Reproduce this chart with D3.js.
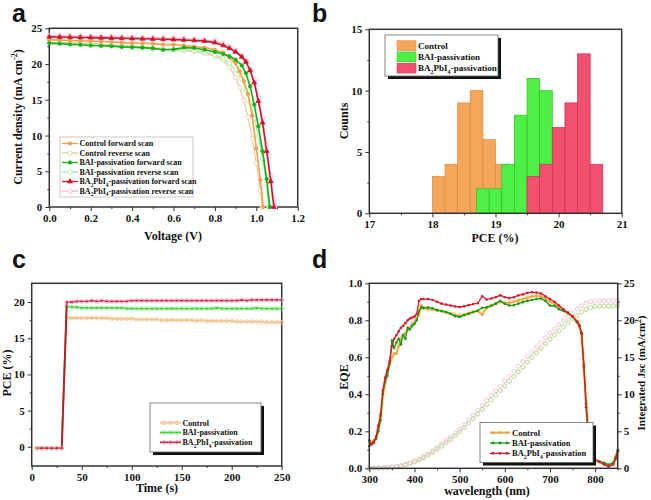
<!DOCTYPE html>
<html><head><meta charset="utf-8">
<script src="https://cdn.jsdelivr.net/npm/d3@7"></script>
<style>body{margin:0;background:#fff}</style>
</head><body>
<svg id="fig" width="651" height="500" xmlns="http://www.w3.org/2000/svg"></svg>
<script>
// ---------- Panel a : J-V curves ----------
const V_ctrlF = [0,0.05,0.1,0.15,0.2,0.25,0.3,0.35,0.4,0.45,0.5,0.55,0.6,0.65,0.7,0.75,0.8,0.84,0.87,0.9,0.92,0.94,0.96,0.98,1.0,1.02,1.033];
const J_ctrlF = [23.4,23.35,23.3,23.25,23.2,23.15,23.1,23.0,22.95,22.9,22.85,22.75,22.7,22.6,22.45,22.3,22.0,21.6,20.9,20.1,19.0,17.6,15.8,12.8,8.2,3.8,0];
const V_ctrlR = [0,0.05,0.1,0.15,0.2,0.25,0.3,0.35,0.4,0.45,0.5,0.55,0.6,0.65,0.7,0.75,0.8,0.84,0.87,0.9,0.92,0.94,0.96,0.98,1.0,1.02,1.028];
const J_ctrlR = [23.1,23.05,23.0,22.95,22.9,22.8,22.7,22.6,22.5,22.4,22.3,22.15,22.0,21.9,21.75,21.5,21.1,20.5,19.6,18.1,16.7,14.9,12.6,9.6,6.1,2.3,0];
const V_baiF = [0,0.05,0.1,0.15,0.2,0.25,0.3,0.35,0.4,0.45,0.5,0.55,0.6,0.65,0.7,0.75,0.8,0.84,0.87,0.9,0.93,0.95,0.97,0.99,1.01,1.03,1.05,1.065];
const J_baiF = [22.9,22.85,22.75,22.7,22.6,22.55,22.5,22.4,22.35,22.3,22.2,22.0,22.05,22.3,22.25,22.0,21.7,21.4,21.1,20.6,19.8,18.7,16.9,14.3,11.3,7.8,3.9,0];
const V_baiR = [0,0.05,0.1,0.15,0.2,0.25,0.3,0.35,0.4,0.45,0.5,0.55,0.6,0.65,0.7,0.75,0.8,0.84,0.87,0.9,0.93,0.95,0.97,0.99,1.01,1.03,1.05,1.06];
const J_baiR = [23.0,22.95,22.9,22.8,22.75,22.65,22.55,22.45,22.35,22.25,22.1,22.0,21.95,22.0,21.9,21.7,21.3,20.8,20.1,19.2,17.9,16.4,14.6,12.4,9.8,6.8,3.2,0];
const V_baF = [0,0.05,0.1,0.15,0.2,0.25,0.3,0.35,0.4,0.45,0.5,0.55,0.6,0.65,0.7,0.75,0.8,0.84,0.87,0.9,0.93,0.95,0.97,0.99,1.01,1.03,1.05,1.07,1.085];
const J_baF = [23.8,23.78,23.75,23.72,23.7,23.66,23.63,23.6,23.56,23.53,23.5,23.46,23.42,23.37,23.3,23.2,23.0,22.6,22.2,21.7,21.0,20.3,19.1,17.4,14.8,11.8,7.8,3.6,0];
const V_baR = [0,0.05,0.1,0.15,0.2,0.25,0.3,0.35,0.4,0.45,0.5,0.55,0.6,0.65,0.7,0.75,0.8,0.84,0.87,0.9,0.93,0.95,0.97,0.99,1.01,1.03,1.05,1.07,1.09];
const J_baR = [24.0,23.98,23.95,23.92,23.9,23.87,23.84,23.8,23.77,23.74,23.7,23.66,23.62,23.57,23.5,23.4,23.2,22.9,22.4,21.9,21.2,20.4,19.3,17.8,15.4,12.5,8.6,4.4,0];
const aXTicks = [0,0.2,0.4,0.6,0.8,1.0,1.2];
const aYTicks = [0,5,10,15,20,25];

// ---------- Panel b : PCE histograms ----------
const binW = 0.2;
const ctrlBins = [18.0,18.2,18.4,18.6,18.8,19.0];
const ctrlCounts = [3,4,9,10,6,4];
const baiBins = [18.7,18.9,19.1,19.3,19.5,19.7,19.9];
const baiCounts = [2,2,4,8,11,10,3];
const baBins = [19.5,19.7,19.9,20.1,20.3,20.5];
const baCounts = [3,4,7,9,13,4];
const bXTicks = [17,18,19,20,21];
const bYTicks = [0,5,10,15];

// ---------- Panel c : stabilized PCE ----------
const tSec = [5,10,15,20,25,30,35,40,45,50,55,60,65,70,75,80,85,90,95,100,105,110,115,120,125,130,135,140,145,150,155,160,165,170,175,180,185,190,195,200,205,210,215,220,225,230,235,240,245,250];
const pceCtrl = [-0.2,-0.2,-0.2,-0.2,-0.2,-0.2,17.9,17.8,17.8,17.8,17.8,17.8,17.8,17.8,17.8,17.7,17.7,17.7,17.7,17.7,17.6,17.6,17.6,17.6,17.6,17.5,17.5,17.5,17.5,17.5,17.5,17.5,17.4,17.5,17.4,17.4,17.4,17.4,17.4,17.4,17.3,17.3,17.3,17.3,17.3,17.3,17.2,17.2,17.2,17.2];
const pceBai = [-0.2,-0.2,-0.2,-0.2,-0.2,-0.2,19.4,19.3,19.3,19.2,19.2,19.2,19.2,19.2,19.2,19.2,19.2,19.2,19.1,19.1,19.1,19.1,19.1,19.1,19.1,19.1,19.1,19.1,19.1,19.1,19.1,19.1,19.1,19.1,19.1,19.1,19.2,19.1,19.1,19.1,19.1,19.1,19.1,19.1,19.2,19.1,19.1,19.1,19.1,19.1];
const pceBa = [-0.2,-0.2,-0.2,-0.2,-0.2,-0.2,20.0,20.0,20.1,20.1,20.1,20.2,20.1,20.2,20.1,20.1,20.1,20.1,20.1,20.2,20.2,20.2,20.2,20.2,20.2,20.2,20.2,20.2,20.2,20.2,20.2,20.2,20.2,20.2,20.2,20.2,20.2,20.2,20.2,20.2,20.2,20.3,20.2,20.3,20.3,20.3,20.3,20.3,20.3,20.3];
const cXTicks = [0,50,100,150,200,250];
const cYTicks = [0,5,10,15,20];

// ---------- Panel d : EQE and integrated Jsc ----------
const wlEqe = [300,305,310,315,320,325,330,335,340,345,350,355,360,365,370,375,380,385,390,395,400,405,410,415,420,430,440,450,460,470,480,490,500,510,520,530,540,550,560,570,580,590,600,610,620,630,640,650,660,670,680,690,700,710,720,730,740,750,760,765,770,775,780,785,790,795,800,810,820,830,840,845,850];
const eqeCtrl = [0.15,0.14,0.14,0.16,0.22,0.28,0.40,0.46,0.52,0.56,0.60,0.62,0.62,0.66,0.70,0.72,0.73,0.75,0.76,0.78,0.79,0.81,0.83,0.88,0.87,0.86,0.86,0.855,0.85,0.842,0.836,0.83,0.825,0.83,0.838,0.845,0.85,0.832,0.87,0.88,0.89,0.90,0.892,0.895,0.90,0.908,0.915,0.922,0.928,0.932,0.93,0.92,0.90,0.89,0.87,0.855,0.84,0.82,0.79,0.77,0.725,0.56,0.36,0.20,0.10,0.06,0.045,0.035,0.025,0.015,0.025,0.05,0.09];
const eqeBai = [0.12,0.13,0.15,0.16,0.20,0.26,0.40,0.47,0.50,0.57,0.69,0.65,0.68,0.70,0.67,0.72,0.70,0.76,0.75,0.77,0.78,0.80,0.85,0.87,0.865,0.87,0.865,0.855,0.85,0.845,0.835,0.822,0.818,0.828,0.835,0.845,0.852,0.868,0.87,0.878,0.89,0.905,0.89,0.88,0.882,0.89,0.898,0.905,0.91,0.915,0.918,0.905,0.88,0.878,0.86,0.85,0.84,0.82,0.79,0.77,0.73,0.56,0.35,0.20,0.10,0.06,0.045,0.035,0.03,0.02,0.03,0.06,0.10];
const eqeBa = [0.15,0.13,0.14,0.17,0.23,0.29,0.42,0.49,0.53,0.58,0.66,0.70,0.72,0.74,0.76,0.77,0.785,0.80,0.81,0.815,0.82,0.835,0.905,0.915,0.915,0.915,0.91,0.90,0.89,0.885,0.88,0.875,0.872,0.876,0.882,0.888,0.892,0.93,0.912,0.918,0.925,0.935,0.925,0.92,0.925,0.935,0.94,0.948,0.952,0.95,0.945,0.93,0.915,0.90,0.88,0.86,0.84,0.82,0.795,0.775,0.73,0.55,0.33,0.18,0.09,0.055,0.045,0.035,0.02,0.01,0.02,0.05,0.09];
const wlJsc = [300,310,320,330,340,350,360,370,380,390,400,410,420,430,440,450,460,470,480,490,500,510,520,530,540,550,560,570,580,590,600,610,620,630,640,650,660,670,680,690,700,710,720,730,740,750,760,770,780,790,800,810,820,830,840,850];
const jscCtrl = [0,0.01,0.03,0.05,0.09,0.15,0.23,0.34,0.47,0.64,0.85,1.1,1.4,1.74,2.12,2.53,2.97,3.43,3.9,4.39,4.9,5.48,6.08,6.69,7.31,7.93,8.56,9.2,9.84,10.48,11.12,11.76,12.4,13.05,13.7,14.35,15.0,15.63,16.26,16.89,17.5,18.06,18.61,19.15,19.68,20.2,20.68,21.12,21.5,21.72,21.83,21.86,21.88,21.9,21.92,21.94];
const jscBai = [0,0.01,0.03,0.05,0.09,0.15,0.23,0.34,0.48,0.66,0.88,1.15,1.46,1.8,2.18,2.6,3.04,3.5,3.97,4.46,4.96,5.55,6.15,6.76,7.38,8.0,8.63,9.26,9.89,10.52,11.15,11.78,12.41,13.04,13.67,14.3,14.93,15.56,16.19,16.82,17.44,18.0,18.55,19.09,19.62,20.14,20.63,21.08,21.48,21.75,21.88,21.92,21.95,21.97,21.99,22.0];
const jscBa = [0,0.01,0.03,0.06,0.10,0.16,0.25,0.37,0.52,0.72,0.96,1.25,1.58,1.95,2.36,2.8,3.27,3.75,4.25,4.77,5.3,5.93,6.56,7.2,7.85,8.5,9.16,9.82,10.48,11.14,11.8,12.46,13.12,13.78,14.44,15.1,15.74,16.38,17.02,17.66,18.3,18.85,19.4,19.95,20.48,21.0,21.5,21.95,22.3,22.5,22.6,22.63,22.65,22.66,22.68,22.7];
const dXTicks = [300,400,500,600,700,800];
const dYTicks = [0,0.2,0.4,0.6,0.8,1.0];
const dY2Ticks = [0,5,10,15,20,25];

// ---------- drawing ----------
const SERIF = "'Liberation Serif','Times New Roman',serif";
const SANS = "'Liberation Sans',Arial,sans-serif";
const svg = d3.select('#fig');
svg.append('rect').attr('width',651).attr('height',500).attr('fill','#fff');

function rich(t, parts, fs) {
  let shift = 0;
  parts.forEach(([s, k]) => {
    const sp = t.append('tspan').text(s);
    const target = k === 'sub' ? fs * 0.3 : k === 'sup' ? -fs * 0.38 : 0;
    sp.attr('dy', target - shift); shift = target;
    if (k !== 'n') sp.attr('font-size', fs * 0.68);
  });
  return t;
}
function BA(rest) { return [['BA','n'],['2','sub'],['PbI','n'],['4','sub'],[rest,'n']]; }

function styleAxis(g, fs) {
  g.select('.domain').remove();
  g.attr('font-family', SERIF).attr('font-size', fs).attr('font-weight', 'bold');
  g.selectAll('text').attr('fill', '#111');
  g.selectAll('line').attr('stroke', '#333').attr('stroke-width', 1);
}
function frame(x, y, o) {
  const g = svg.append('g');
  const [x0, x1] = x.range(), [yb, yt] = y.range();
  const fs = o.fs || 11;
  styleAxis(g.append('g').attr('transform', `translate(0,${yb})`)
    .call(d3.axisBottom(x).tickValues(o.xt).tickSize(4).tickPadding(3).tickFormat(o.xf)), fs);
  styleAxis(g.append('g').attr('transform', `translate(0,${yb})`)
    .call(d3.axisBottom(x).tickValues(o.xm).tickSize(2).tickFormat('')), fs);
  styleAxis(g.append('g').attr('transform', `translate(${x0},0)`)
    .call(d3.axisLeft(y).tickValues(o.yt).tickSize(4).tickPadding(3).tickFormat(o.yf)), fs);
  styleAxis(g.append('g').attr('transform', `translate(${x0},0)`)
    .call(d3.axisLeft(y).tickValues(o.ym).tickSize(2).tickFormat('')), fs);
  g.append('rect').attr('x', x0).attr('y', yt).attr('width', x1 - x0).attr('height', yb - yt)
    .attr('fill', 'none').attr('stroke', '#333').attr('stroke-width', 1.5);
  return g;
}
function title(x, y, parts, rot, fs) {
  const t = svg.append('text').attr('font-family', SERIF).attr('font-weight', 'bold')
    .attr('font-size', fs || 12).attr('fill', '#111').attr('text-anchor', 'middle')
    .attr('transform', `translate(${x},${y}) rotate(${rot || 0})`);
  rich(t, parts, fs || 12);
}
function letter(x, y, s) {
  svg.append('text').attr('x', x).attr('y', y).attr('font-family', SANS)
    .attr('font-weight', 'bold').attr('font-size', 25).attr('fill', '#111').text(s);
}
function legendBox(x, y, w, h, shadow) {
  if (shadow) svg.append('rect').attr('x', x + 3).attr('y', y + 3).attr('width', w).attr('height', h).attr('fill', '#111');
  svg.append('rect').attr('x', x).attr('y', y).attr('width', w).attr('height', h)
    .attr('fill', '#fff').attr('stroke', shadow ? '#666' : '#bbb').attr('stroke-width', 0.8);
  return svg.append('g');
}
function marker(g, type, cx, cy, r, col, fill) {
  if (type === 'tri') {
    g.append('path').attr('d', d3.symbol(d3.symbolTriangle, r * r * 3.2)())
      .attr('transform', `translate(${cx},${cy})`).attr('fill', fill).attr('stroke', col).attr('stroke-width', 0.8);
  } else {
    g.append('circle').attr('cx', cx).attr('cy', cy).attr('r', r).attr('fill', fill)
      .attr('stroke', col).attr('stroke-width', 0.8);
  }
}

// ===== Panel a =====
{
  const x = d3.scaleLinear().domain([0, 1.2]).range([49.3, 297.7]);
  const y = d3.scaleLinear().domain([0, 25]).range([207, 28.3]);
  frame(x, y, { xt: aXTicks, xm: [0.1,0.3,0.5,0.7,0.9,1.1], xf: d3.format('.1f'),
    yt: aYTicks, ym: [2.5,7.5,12.5,17.5,22.5], yf: d3.format('d') });
  const series = [
    { V: V_ctrlR, J: J_ctrlR, col: '#e9c89c', fill: '#fff', m: 'c', r: 2.2 },
    { V: V_baiR, J: J_baiR, col: '#a6eba0', fill: '#fff', m: 'c', r: 2.2 },
    { V: V_baR, J: J_baR, col: '#f2b3cc', fill: '#fff', m: 'c', r: 2.2 },
    { V: V_ctrlF, J: J_ctrlF, col: '#f0a04c', fill: '#f0a04c', m: 'c', r: 1.7 },
    { V: V_baiF, J: J_baiF, col: '#14b014', fill: '#14b014', m: 'c', r: 1.7 },
    { V: V_baF, J: J_baF, col: '#d2142c', fill: '#d2142c', m: 'tri', r: 1.8 }
  ];
  const gl = svg.append('g');
  series.forEach(s => {
    const pts = s.V.map((v, i) => [x(v), y(s.J[i])]);
    gl.append('path').attr('d', d3.line()(pts)).attr('fill', 'none').attr('stroke', s.col)
      .attr('stroke-width', s.fill === '#fff' ? 1.2 : 1.6);
    pts.forEach(p => marker(gl, s.m, p[0], p[1], s.r, s.col, s.fill));
  });
  const lg = legendBox(60, 137, 133, 60, false);
  const leg = [
    [series[3], [['Control forward scan','n']]],
    [series[0], [['Control reverse scan','n']]],
    [series[4], [['BAI-passivation forward scan','n']]],
    [series[1], [['BAI-passivation reverse scan','n']]],
    [series[5], BA('-passivation forward scan')],
    [series[2], BA('-passivation reverse scan')]
  ];
  leg.forEach(([s, parts], i) => {
    const yy = 143.5 + i * 9.5;
    lg.append('line').attr('x1', 62).attr('x2', 78).attr('y1', yy).attr('y2', yy).attr('stroke', s.col).attr('stroke-width', 1.3);
    marker(lg, s.m, 70, yy, s.r, s.col, s.fill);
    const t = lg.append('text').attr('x', 79.5).attr('y', yy + 2.8).attr('font-family', SERIF)
      .attr('font-weight', 'bold').attr('font-size', 8).attr('fill', '#111');
    rich(t, parts, 8);
  });
  title(22, 117, [['Current density (mA cm','n'],['-2','sup'],[')','n']], -90, 12);
  title(173, 240, [['Voltage (V)','n']], 0, 12);
  letter(12, 22, 'a');
}

// ===== Panel b =====
{
  const x = d3.scaleLinear().domain([17, 21]).range([369.3, 621.7]);
  const y = d3.scaleLinear().domain([0, 15]).range([213.3, 29.3]);
  const gh = svg.append('g');
  const groups = [
    { bins: ctrlBins, counts: ctrlCounts, fill: '#f5a65a', stroke: '#d98a3e' },
    { bins: baiBins, counts: baiCounts, fill: '#4ff046', stroke: '#2fbf2a' },
    { bins: baBins, counts: baCounts, fill: '#f2506f', stroke: '#cc3050' }
  ];
  groups.forEach(gp => {
    gh.selectAll(null).data(gp.bins).enter().append('rect')
      .attr('x', d => x(d)).attr('width', d => x(d + binW) - x(d))
      .attr('y', (d, i) => y(gp.counts[i])).attr('height', (d, i) => y(0) - y(gp.counts[i]))
      .attr('fill', gp.fill).attr('stroke', gp.stroke).attr('stroke-width', 0.7);
  });
  frame(x, y, { xt: bXTicks, xm: [17.5,18.5,19.5,20.5], xf: d3.format('d'),
    yt: bYTicks, ym: [2.5,7.5,12.5], yf: d3.format('d') });
  const lg = legendBox(385, 35, 113, 41, true);
  const names = [[['Control','n']], [['BAI-passivation','n']], BA('-passivation')];
  names.forEach((parts, i) => {
    const yy = 45.7 + i * 11.2;
    lg.append('rect').attr('x', 397).attr('y', yy - 5).attr('width', 19).attr('height', 10)
      .attr('fill', groups[i].fill).attr('stroke', groups[i].stroke).attr('stroke-width', 0.5);
    const t = lg.append('text').attr('x', 418).attr('y', yy + 3).attr('font-family', SERIF)
      .attr('font-weight', 'bold').attr('font-size', 9).attr('fill', '#111');
    rich(t, parts, 9);
  });
  title(348, 121, [['Counts','n']], -90, 12);
  title(495, 242, [['PCE (%)','n']], 0, 12);
  letter(312, 22, 'b');
}

// ===== Panel c =====
{
  const x = d3.scaleLinear().domain([0, 250]).range([31.7, 281.7]);
  const y = d3.scaleLinear().domain([-2.66, 22.6]).range([466, 283.3]);
  frame(x, y, { xt: cXTicks, xm: [25,75,125,175,225], xf: d3.format('d'),
    yt: cYTicks, ym: [2.5,7.5,12.5,17.5], yf: d3.format('d') });
  const series = [
    { v: pceCtrl, line: '#f2c48c', mk: '#efc99a', name: [['Control','n']] },
    { v: pceBai, line: '#2ecc2e', mk: '#9ae896', name: [['BAI-passivation','n']] },
    { v: pceBa, line: '#cc1030', mk: '#f2a6c0', name: BA('-passivation') }
  ];
  const g = svg.append('g');
  series.forEach(s => {
    const pts = tSec.map((t, i) => [x(t), y(s.v[i])]);
    g.append('path').attr('d', d3.line()(pts)).attr('fill', 'none').attr('stroke', s.line).attr('stroke-width', 1.8);
    pts.forEach(p => g.append('circle').attr('cx', p[0]).attr('cy', p[1]).attr('r', 1.9)
      .attr('fill', 'none').attr('stroke', s.mk).attr('stroke-width', 0.9));
  });
  const lg = legendBox(150, 403, 111, 49, true);
  series.forEach((s, i) => {
    const yy = 422.7 + i * 9.8;
    lg.append('line').attr('x1', 160).attr('x2', 181).attr('y1', yy).attr('y2', yy).attr('stroke', s.line).attr('stroke-width', 1.8);
    [164, 170.5, 177].forEach(cx => lg.append('circle').attr('cx', cx).attr('cy', yy).attr('r', 1.9)
      .attr('fill', 'none').attr('stroke', s.mk).attr('stroke-width', 0.9));
    const t = lg.append('text').attr('x', 182.5).attr('y', yy + 2.8).attr('font-family', SERIF)
      .attr('font-weight', 'bold').attr('font-size', 8).attr('fill', '#111');
    rich(t, s.name, 8);
  });
  title(11, 373, [['PCE (%)','n']], -90, 12);
  title(157, 492, [['Time (s)','n']], 0, 12);
  letter(12, 268, 'c');
}

// ===== Panel d =====
{
  const x = d3.scaleLinear().domain([300, 850]).range([369.3, 617.7]);
  const y = d3.scaleLinear().domain([0, 1]).range([468.3, 283.3]);
  const y2 = d3.scaleLinear().domain([0, 25]).range([468.3, 283.3]);
  const g = svg.append('g');
  const jsc = [
    { v: jscCtrl, col: '#eccb9c' }, { v: jscBai, col: '#a8e8a0' }, { v: jscBa, col: '#f0b6cc' }
  ];
  jsc.forEach(s => {
    wlJsc.forEach((w, i) => g.append('circle').attr('cx', x(w)).attr('cy', y2(s.v[i])).attr('r', 2)
      .attr('fill', 'none').attr('stroke', s.col).attr('stroke-width', 0.8));
  });
  const eqe = [
    { v: eqeCtrl, col: '#f0a04c', halo: '#f8e0a0', name: [['Control','n']] },
    { v: eqeBai, col: '#169c16', halo: null, name: [['BAI-passivation','n']] },
    { v: eqeBa, col: '#d81a30', halo: null, name: BA('-passivation') }
  ];
  eqe.forEach(s => {
    const pts = wlEqe.map((w, i) => [x(w), y(s.v[i])]);
    if (s.halo) g.append('path').attr('d', d3.line()(pts)).attr('fill', 'none').attr('stroke', s.halo).attr('stroke-width', 3.5);
    g.append('path').attr('d', d3.line()(pts)).attr('fill', 'none').attr('stroke', s.col).attr('stroke-width', 1.3);
    pts.forEach(p => g.append('circle').attr('cx', p[0]).attr('cy', p[1]).attr('r', 1.3).attr('fill', s.col));
  });
  const fr = frame(x, y, { xt: dXTicks, xm: [350,450,550,650,750,850], xf: d3.format('d'),
    yt: dYTicks, ym: [0.1,0.3,0.5,0.7,0.9], yf: d3.format('.1f') });
  const ra = fr.append('g').attr('transform', 'translate(617.7,0)')
    .call(d3.axisRight(y2).tickValues(dY2Ticks).tickSize(4).tickPadding(2).tickFormat(d3.format('d')));
  styleAxis(ra, 11);
  styleAxis(fr.append('g').attr('transform', 'translate(617.7,0)')
    .call(d3.axisRight(y2).tickValues([2.5,7.5,12.5,17.5,22.5]).tickSize(2).tickFormat('')), 11);
  const lg = legendBox(480, 422.5, 113, 40, true);
  eqe.forEach((s, i) => {
    const yy = 432.7 + i * 10.3;
    if (s.halo) lg.append('line').attr('x1', 490).attr('x2', 510).attr('y1', yy).attr('y2', yy).attr('stroke', s.halo).attr('stroke-width', 3);
    lg.append('line').attr('x1', 490).attr('x2', 510).attr('y1', yy).attr('y2', yy).attr('stroke', s.col).attr('stroke-width', 1.3);
    [493, 500, 507].forEach(cx => lg.append('circle').attr('cx', cx).attr('cy', yy).attr('r', 1.4).attr('fill', s.col));
    const t = lg.append('text').attr('x', 512).attr('y', yy + 3).attr('font-family', SERIF)
      .attr('font-weight', 'bold').attr('font-size', 8.5).attr('fill', '#111');
    rich(t, s.name, 8.5);
  });
  title(348, 377, [['EQE','n']], -90, 12);
  title(645, 373, [['Integrated Jsc (mA/cm','n'],['2','sup'],[')','n']], -90, 11);
  title(487, 495, [['wavelength (nm)','n']], 0, 12);
  letter(312, 268, 'd');
}
</script>
</body></html>
